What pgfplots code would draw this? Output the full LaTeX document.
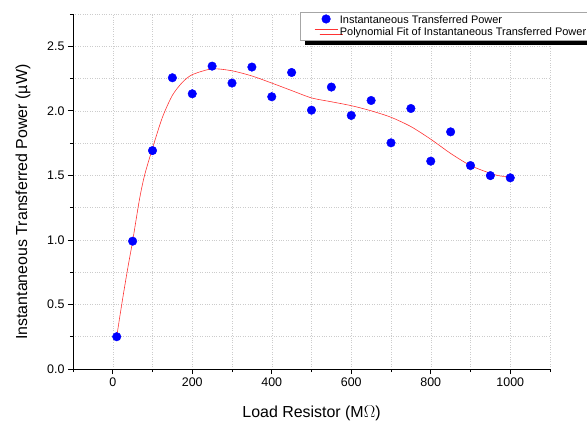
\documentclass[border=0pt]{standalone}
\usepackage{pgfplots}
\pgfplotsset{compat=1.18}
\usepackage{fontspec}
\setmainfont{Liberation Sans}
\usetikzlibrary{shadows}

% measured power versus load resistance
\pgfplotstableread{
R P
10 0.250
50 0.990
100 1.692
150 2.256
200 2.132
250 2.346
300 2.215
350 2.339
400 2.109
450 2.297
500 2.005
550 2.184
600 1.964
650 2.080
700 1.752
750 2.018
800 1.610
850 1.837
900 1.576
950 1.498
1000 1.481
}\powerdata

% polynomial fit curve, sampled
\pgfplotstableread{
R P
10 0.25
20 0.45
30 0.64
40 0.82
50 0.99
67 1.31
80 1.50
100 1.71
125 1.95
150 2.12
175 2.22
200 2.28
250 2.325
300 2.31
350 2.27
400 2.215
450 2.157
500 2.10
550 2.07
600 2.04
650 2.00
700 1.95
750 1.878
800 1.78
850 1.67
900 1.576
950 1.516
975 1.495
1000 1.49
}\fitdata

\pgfplotsset{
  dotlegend/.style={legend image code/.code={\draw[##1] plot coordinates {(11.5bp,1.2bp)};}},
  linelegend/.style={legend image code/.code={\draw[##1] (0bp,3.6bp) -- (23bp,3.6bp);}},
}

\begin{document}
\begin{tikzpicture}
\begin{axis}[
  at={(0,0)}, anchor=south west,
  scale only axis,
  width=477bp, height=355bp,
  xmin=-100, xmax=1100,
  ymin=0, ymax=2.75,
  axis x line*=bottom,
  axis y line*=left,
  axis line style={line width=0.9pt, -},
  xtick={0,200,...,1000},
  minor xtick={-100,100,...,1100},
  ytick={0,0.5,...,2.5},
  minor ytick={0.25,0.75,...,2.75},
  tick align=outside,
  major tick length=5bp,
  minor tick length=3bp,
  tick style={line width=0.8pt, black},
  grid=both,
  major grid style={gray!40, dotted, line width=0.5pt},
  minor grid style={gray!40, dotted, line width=0.5pt},
  /pgf/number format/assume math mode=true,
  ticklabel style={font=\fontsize{12.5}{14}\selectfont},
  yticklabel style={/pgf/number format/.cd, fixed, fixed zerofill, precision=1},
  xticklabel style={/pgf/number format/.cd, fixed, 1000 sep={}},
  xlabel={Load Resistor (M$\Omega$)},
  ylabel={Instantaneous Transferred Power (\textmu W)},
  label style={font=\fontsize{16}{18}\selectfont},
  xlabel style={at={(axis description cs:0.5,-0.124)}, anchor=center},
  ylabel style={at={(axis description cs:-0.105,0.47)}, anchor=center},
  legend style={
    at={(axis description cs:0.476,1.005)}, anchor=north west,
    font=\fontsize{11}{12.5}\selectfont,
    draw=gray!70, line width=0.5pt,
    inner ysep=1pt, inner xsep=14bp, row sep=-1pt,
    fill=white,
    drop shadow={shadow xshift=5bp, shadow yshift=-5bp, fill=black, opacity=1},
  },
  legend cell align=left,
  clip=false,
]
\addplot[only marks, mark=*, mark size=4.3pt, color=blue, mark options={fill=blue, draw=blue}, dotlegend]
  table[x=R, y=P]{\powerdata};
\addlegendentry{Instantaneous Transferred Power}
\addplot[red!80!white, line width=0.6pt, smooth, tension=0.45, no marks, linelegend]
  table[x=R, y=P]{\fitdata};
\addlegendentry{Polynomial Fit of Instantaneous Transferred Power}
\end{axis}
\pgfresetboundingbox
\path[use as bounding box] (-73bp,-58bp) rectangle (514bp,369bp);
\end{tikzpicture}
\end{document}
